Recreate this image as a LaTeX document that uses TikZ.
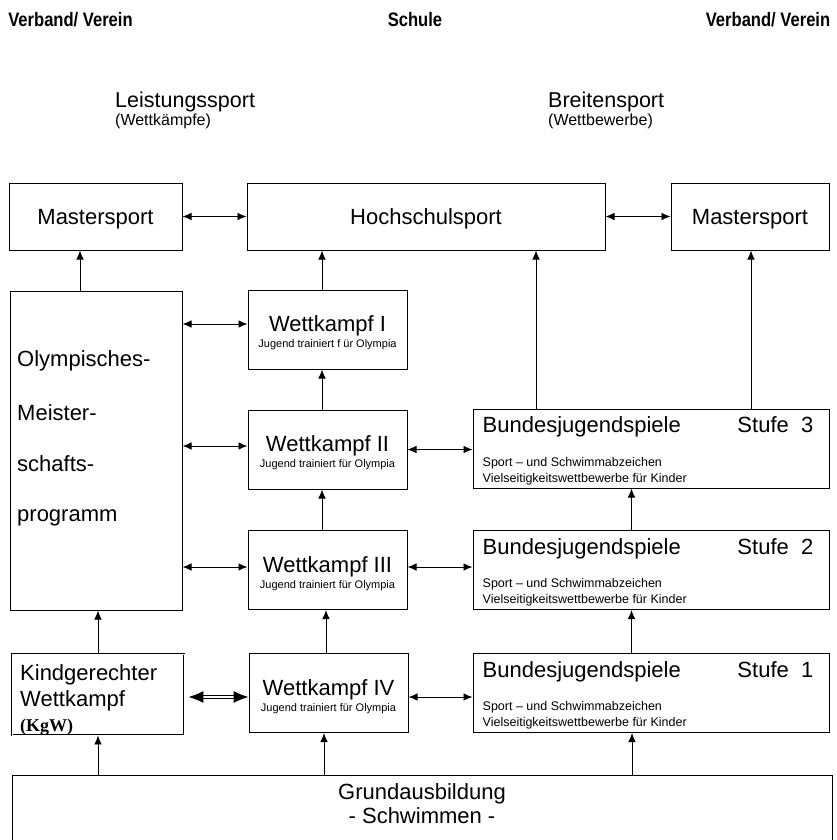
\documentclass[tikz,border=0pt]{standalone}
\usepackage{fontspec}
\setmainfont{Liberation Sans}
\newfontfamily\schmal[FakeStretch=0.85]{Liberation Sans}
\newfontfamily\kgwfont{Liberation Serif}
\usetikzlibrary{arrows.meta}

\begin{document}
\begin{tikzpicture}[x=1pt,y=-1pt,
  every node/.style={font=\fontsize{22}{26}\selectfont,inner sep=0pt},
  box/.style={draw,line width=1pt,text depth=0pt},
  kopf/.style={font=\schmal\fontsize{19.5}{22}\selectfont\bfseries},
  bereich/.style={font=\fontsize{21.5}{24}\selectfont,anchor=base west},
  klammer/.style={font=\fontsize{16}{18}\selectfont,anchor=base west},
  unter/.style={font=\fontsize{11}{13}\selectfont,anchor=base},
  klein/.style={font=\fontsize{12.5}{15}\selectfont,anchor=base west},
  pfeil/.style={-{Latex[length=9pt,width=7.5pt]},line width=0.9pt},
  doppel/.style={{Latex[length=9pt,width=7.5pt]}-{Latex[length=9pt,width=7.5pt]},line width=0.9pt},
  breit/.style={{Latex[length=15pt,width=12pt]}-{Latex[length=15pt,width=12pt]},double,double distance=2.5pt,line width=1pt,shorten <=4pt}]
\useasboundingbox (0,0) rectangle (837,840);
% Kopfzeile
\node[kopf] (verbandL) at (70.5,20) {Verband/ Verein};
\node[kopf] (schule) at (415,20) {Schule};
\node[kopf] (verbandR) at (768,20) {Verband/ Verein};
\node[bereich] (leistung) at (115,108) {Leistungssport};
\node[klammer] (wettkaempfe) at (115,125.5) {(Wettkämpfe)};
\node[bereich] (breiten) at (548,108) {Breitensport};
\node[klammer] (wettbewerbe) at (548,125.5) {(Wettbewerbe)};
% obere Reihe
\node[box,minimum width=173pt,minimum height=67pt] (mastL) at (95.5,216.5) {Mastersport};
\node[box,minimum width=358pt,minimum height=67pt] (hoch) at (426,216.5) {Hochschulsport};
\node[box,minimum width=158pt,minimum height=67pt] (mastR) at (750,216.5) {Mastersport};
% linke Spalte
\node[box,minimum width=172pt,minimum height=319pt] (olymp) at (96,450.5) {};
\node[anchor=base west] (olymp1) at (17,366) {Olympisches-};
\node[anchor=base west] (olymp2) at (17,420) {Meister-};
\node[anchor=base west] (olymp3) at (17,471) {schafts-};
\node[anchor=base west] (olymp4) at (17,521) {programm};
\node[box,double,double distance=0.8pt,line width=0.9pt,minimum width=172pt,minimum height=81pt] (kgw) at (98,694.5) {};
\node[anchor=base west] (kgw1) at (20,680) {Kindgerechter};
\node[anchor=base west] (kgw2) at (20,706) {Wettkampf};
\node[anchor=base west,font=\kgwfont\bfseries\fontsize{18}{20}\selectfont] (kgw3) at (20,731) {(KgW)};
% Schule
\node[box,minimum width=159pt,minimum height=79pt] (wk1) at (327.5,329.5) {};
\node[anchor=base] (wk1t) at ([yshift=-2pt]wk1.center) {Wettkampf I};
\node[unter] (wk1s) at ([yshift=-18pt]wk1.center) {Jugend trainiert f ür Olympia};
\node[box,minimum width=159pt,minimum height=79pt] (wk2) at (327.5,449.5) {};
\node[anchor=base] (wk2t) at ([yshift=-2pt]wk2.center) {Wettkampf II};
\node[unter] (wk2s) at ([yshift=-18pt]wk2.center) {Jugend trainiert für Olympia};
\node[box,minimum width=159pt,minimum height=79pt] (wk3) at (327.5,570) {};
\node[anchor=base] (wk3t) at ([yshift=-2pt]wk3.center) {Wettkampf III};
\node[unter] (wk3s) at ([yshift=-18pt]wk3.center) {Jugend trainiert für Olympia};
\node[box,minimum width=159pt,minimum height=79pt] (wk4) at (328.5,693) {};
\node[anchor=base] (wk4t) at ([yshift=-2pt]wk4.center) {Wettkampf IV};
\node[unter] (wk4s) at ([yshift=-18pt]wk4.center) {Jugend trainiert für Olympia};
% Bundesjugendspiele
\node[box,minimum width=356pt,minimum height=79pt] (bjs3) at (651,448.5) {};
\node[anchor=base west] (bjs3t) at ([xshift=10pt,yshift=-24pt]bjs3.north west) {Bundesjugendspiele};
\node[anchor=base east] (bjs3n) at ([xshift=-16pt,yshift=-24pt]bjs3.north east) {Stufe~~3};
\node[klein] (bjs3a) at ([xshift=10pt,yshift=-57.5pt]bjs3.north west) {Sport – und Schwimmabzeichen};
\node[klein] (bjs3b) at ([xshift=10pt,yshift=-73.5pt]bjs3.north west) {Vielseitigkeitswettbewerbe für Kinder};
\node[box,minimum width=356pt,minimum height=79pt] (bjs2) at (651,570) {};
\node[anchor=base west] (bjs2t) at ([xshift=10pt,yshift=-24pt]bjs2.north west) {Bundesjugendspiele};
\node[anchor=base east] (bjs2n) at ([xshift=-16pt,yshift=-24pt]bjs2.north east) {Stufe~~2};
\node[klein] (bjs2a) at ([xshift=10pt,yshift=-57.5pt]bjs2.north west) {Sport – und Schwimmabzeichen};
\node[klein] (bjs2b) at ([xshift=10pt,yshift=-73.5pt]bjs2.north west) {Vielseitigkeitswettbewerbe für Kinder};
\node[box,minimum width=356pt,minimum height=79pt] (bjs1) at (651,693) {};
\node[anchor=base west] (bjs1t) at ([xshift=10pt,yshift=-24pt]bjs1.north west) {Bundesjugendspiele};
\node[anchor=base east] (bjs1n) at ([xshift=-16pt,yshift=-24pt]bjs1.north east) {Stufe~~1};
\node[klein] (bjs1a) at ([xshift=10pt,yshift=-57.5pt]bjs1.north west) {Sport – und Schwimmabzeichen};
\node[klein] (bjs1b) at ([xshift=10pt,yshift=-73.5pt]bjs1.north west) {Vielseitigkeitswettbewerbe für Kinder};
% Grundausbildung
\node[box,minimum width=820pt,minimum height=70pt] (grund) at (422,810) {};
\node (grund1) at (422,794) {Grundausbildung};
\node (grund2) at (422,816) {- Schwimmen -};
% Pfeile
\draw[doppel] (mastL) -- (hoch);
\draw[doppel] (hoch) -- (mastR);
\draw[pfeil] ([xshift=-16pt]olymp.north) -- ([xshift=-16pt]olymp.north |- mastL.south);
\draw[pfeil] ([xshift=-5.5pt]wk1.north) -- ([xshift=-5.5pt]wk1.north |- hoch.south);
\draw[pfeil] ([xshift=-115pt]bjs3.north) -- ([xshift=-115pt]bjs3.north |- hoch.south);
\draw[pfeil] ([xshift=100pt]bjs3.north) -- ([xshift=100pt]bjs3.north |- mastR.south);
\draw[doppel] ([yshift=5.5pt]wk1.west -| olymp.east) -- ([yshift=5.5pt]wk1.west);
\draw[doppel] ([yshift=3.5pt]wk2.west -| olymp.east) -- ([yshift=3.5pt]wk2.west);
\draw[doppel] ([yshift=3pt]wk3.west -| olymp.east) -- ([yshift=3pt]wk3.west);
\draw[doppel] (wk2.east) -- (wk2.east -| bjs3.west);
\draw[doppel] ([yshift=3pt]wk3.east) -- ([yshift=3pt]wk3.east -| bjs2.west);
\draw[doppel] ([yshift=-4pt]wk4.east) -- ([yshift=-4pt]wk4.east -| bjs1.west);
\draw[breit] ([yshift=-4pt]wk4.west -| kgw.east) -- ([yshift=-4pt]wk4.west);
\draw[pfeil] ([xshift=-5.5pt]wk2.north) -- ([xshift=-5.5pt]wk1.south);
\draw[pfeil] ([xshift=-5.5pt]wk3.north) -- ([xshift=-5.5pt]wk2.south);
\draw[pfeil] ([xshift=-2.5pt]wk4.north) -- ([xshift=-2.5pt]wk4.north |- wk3.south);
\draw[pfeil] ([xshift=-19.5pt]bjs2.north) -- ([xshift=-19.5pt]bjs3.south);
\draw[pfeil] ([xshift=-19.5pt]bjs1.north) -- ([xshift=-19.5pt]bjs2.south);
\draw[pfeil] (kgw.north) -- (kgw.north |- olymp.south);
\draw[pfeil] (kgw.south |- grund.north) -- (kgw.south);
\draw[pfeil] ([xshift=-4.5pt]wk4.south |- grund.north) -- ([xshift=-4.5pt]wk4.south);
\draw[pfeil] ([xshift=-19pt]bjs1.south |- grund.north) -- ([xshift=-19pt]bjs1.south);
\end{tikzpicture}
\end{document}
